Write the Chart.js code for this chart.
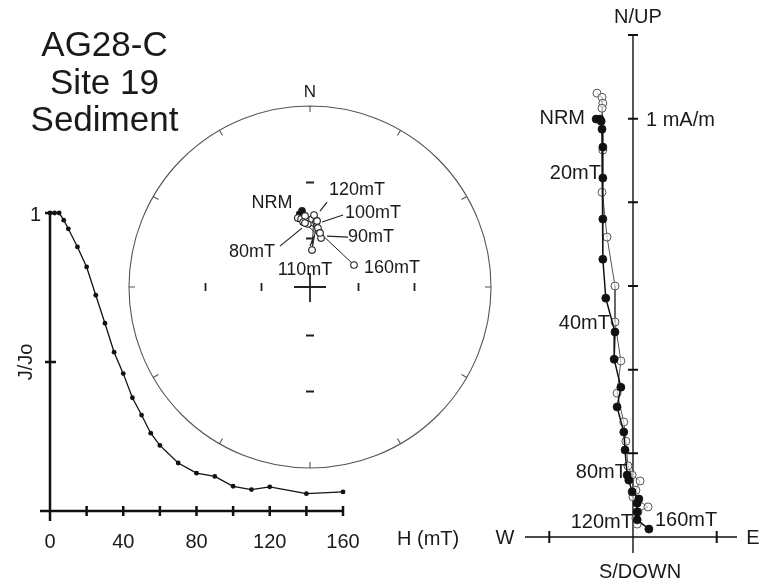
<!DOCTYPE html>
<html>
<head>
<meta charset="utf-8">
<script src="https://cdn.jsdelivr.net/npm/chart.js@4.4.1/dist/chart.umd.min.js"></script>
<style>
html, body { margin: 0; padding: 0; background: #fff; }
#wrap { position: relative; width: 767px; height: 583px; overflow: hidden; }
canvas { position: absolute; left: 0; top: 0; }
#title { position: absolute; left: 24px; top: 25px; width: 161px; text-align: center;
  font: 35px "Liberation Sans", Arial, sans-serif; line-height: 37.5px; color: #1a1a1a; }
</style>
</head>
<body>
<div id="wrap">
  <canvas id="demag" width="767" height="583"></canvas>
  <canvas id="stereo" width="767" height="583"></canvas>
  <canvas id="zij" width="767" height="583"></canvas>
  <div id="title">AG28-C<br>Site 19<br>Sediment</div>
</div>
<script>
// --- demagnetisation curve (J/Jo vs field)
const demagField = [0, 2.5, 5, 7.5, 10, 15, 20, 25, 30, 35, 40, 45, 50, 55, 60, 70, 80, 90, 100, 110, 120, 140, 160];
const demagJ = [1.0, 1.0, 1.0, 0.976, 0.947, 0.886, 0.819, 0.724, 0.63, 0.533, 0.461, 0.38, 0.322, 0.261, 0.22, 0.161, 0.127, 0.116, 0.083, 0.072, 0.081, 0.058, 0.064];
const demagXTicks = [0, 40, 80, 120, 160];
const demagXMarks = [0, 20, 40, 60, 80, 100, 120, 140, 160];
const demagYMarks = [0.5, 1];
const demagYLabels = [1];

// --- equal-angle stereonet
const stereoSteps = ['NRM', '5', '10', '15', '20', '30', '40', '50', '60', '70', '80', '90', '100', '110', '120', '140', '160'];
const stereoDec = [354, 352, 350, 352.5, 356, 354, 358, 1.7, 5.3, 7.7, 355.5, 12.7, 6.1, 3.1, 3.2, 10.5, 63.4];
const stereoInc = [44.2, 45.7, -47.7, -48.5, -47, -50.3, -51.6, -48.8, -50.3, -53.6, -51, -59, -49.7, -66.9, -46.6, -56.2, -59.6];
const stereoRingTicks = [0, 30, 60, 90, 120, 150, 180, 210, 240, 270, 300, 330];
const stereoIncTicks = [60, 30];

// --- Zijderveld diagram (mA/m)
const zijHorE = [-0.088, -0.079, -0.076, -0.074, -0.072, -0.072, -0.072, -0.072, -0.065, -0.043, -0.045, -0.029, -0.038, -0.022, -0.019, -0.014, -0.010, -0.002, 0.014, 0.010, 0.010, 0.010, 0.038];
const zijHorN = [0.999, 0.999, 0.994, 0.975, 0.932, 0.858, 0.760, 0.664, 0.571, 0.490, 0.425, 0.358, 0.311, 0.251, 0.208, 0.148, 0.136, 0.108, 0.091, 0.081, 0.060, 0.041, 0.019];
const zijVerE = [-0.086, -0.074, -0.072, -0.074, -0.072, -0.074, -0.062, -0.043, -0.043, -0.029, -0.038, -0.022, -0.017, -0.012, -0.002, 0.017, 0.007, 0.000, 0.036, 0.012, 0.007, 0.010];
const zijVerUp = [1.061, 1.051, 1.037, 1.025, 0.925, 0.824, 0.717, 0.600, 0.514, 0.421, 0.344, 0.275, 0.229, 0.170, 0.148, 0.134, 0.112, 0.096, 0.072, 0.060, 0.045, 0.031];
const zijVTicks = [0.2, 0.4, 0.6, 0.8, 1.0, 1.2];
const zijHTicks = [-0.2, 0.2];

const FONT = '"Liberation Sans", Arial, sans-serif';
const INK = '#1a1a1a';

function hidden(min, max) {
  return { type: 'linear', min: min, max: max, display: false };
}

// ---------- chart 1
const demagAxes = {
  id: 'demagAxes',
  beforeDatasetsDraw(chart) {
    const { ctx, scales: { x, y } } = chart;
    const x0 = x.getPixelForValue(0), y0 = y.getPixelForValue(0);
    ctx.save();
    ctx.strokeStyle = '#111';
    ctx.lineWidth = 2.5;
    ctx.beginPath();
    ctx.moveTo(x0 - 10, y0); ctx.lineTo(x.getPixelForValue(160) + 1, y0);
    ctx.moveTo(x0, y0 + 10); ctx.lineTo(x0, y.getPixelForValue(1));
    demagXMarks.forEach(v => {
      const px = x.getPixelForValue(v);
      ctx.moveTo(px, y0 - 5); ctx.lineTo(px, y0 + 5);
    });
    demagYMarks.forEach(v => {
      const py = y.getPixelForValue(v);
      ctx.moveTo(x0 - 5, py); ctx.lineTo(x0 + 6, py);
    });
    ctx.stroke();

    ctx.fillStyle = INK;
    ctx.font = '20px ' + FONT;
    ctx.textAlign = 'center';
    ctx.textBaseline = 'middle';
    demagXTicks.forEach(v => ctx.fillText(String(v), x.getPixelForValue(v), y0 + 31));
    ctx.textAlign = 'left';
    ctx.fillText('H (mT)', x.getPixelForValue(160) + 54, y0 + 28);
    ctx.textAlign = 'right';
    demagYLabels.forEach(v => ctx.fillText(String(v), x0 - 9, y.getPixelForValue(v) + 2));
    ctx.translate(x0 - 24, y.getPixelForValue(0.5));
    ctx.rotate(-Math.PI / 2);
    ctx.textAlign = 'center';
    ctx.fillText('J/Jo', 0, 0);
    ctx.restore();
  }
};

new Chart(document.getElementById('demag'), {
  type: 'scatter',
  data: {
    datasets: [{
      data: demagField.map((h, i) => ({ x: h, y: demagJ[i] })),
      showLine: true,
      borderColor: '#111',
      borderWidth: 1.3,
      backgroundColor: '#111',
      pointRadius: 2.4,
      pointBorderWidth: 0,
      clip: false
    }]
  },
  options: {
    responsive: false,
    animation: false,
    devicePixelRatio: 1,
    layout: { padding: { left: 50, right: 424, top: 213, bottom: 72 } },
    plugins: { legend: { display: false }, tooltip: { enabled: false } },
    scales: { x: hidden(0, 160), y: hidden(0, 1) }
  },
  plugins: [demagAxes]
});

// ---------- chart 2
function project(dec, inc) {
  const r = Math.tan((90 - Math.abs(inc)) / 2 * Math.PI / 180);
  const d = dec * Math.PI / 180;
  return { x: r * Math.sin(d), y: r * Math.cos(d) };
}

const stereoPts = stereoDec.map((d, i) => project(d, stereoInc[i]));

const stereoFrame = {
  id: 'stereoFrame',
  beforeDatasetsDraw(chart) {
    const { ctx, scales: { x, y } } = chart;
    const cx = x.getPixelForValue(0), cy = y.getPixelForValue(0);
    const R = x.getPixelForValue(1) - cx;
    ctx.save();
    ctx.strokeStyle = '#555';
    ctx.lineWidth = 1.1;
    ctx.beginPath();
    ctx.arc(cx, cy, R, 0, Math.PI * 2);
    stereoRingTicks.forEach(a => {
      const t = a * Math.PI / 180;
      ctx.moveTo(cx + R * Math.sin(t), cy - R * Math.cos(t));
      ctx.lineTo(cx + (R - 6) * Math.sin(t), cy - (R - 6) * Math.cos(t));
    });
    ctx.stroke();

    ctx.strokeStyle = '#222';
    ctx.lineWidth = 1.8;
    ctx.beginPath();
    stereoIncTicks.forEach(inc => {
      const r = Math.tan((90 - inc) / 2 * Math.PI / 180) * R;
      [-1, 1].forEach(s => {
        ctx.moveTo(cx + s * r, cy - 4); ctx.lineTo(cx + s * r, cy + 4);
        ctx.moveTo(cx - 4, cy + s * r); ctx.lineTo(cx + 4, cy + s * r);
      });
    });
    ctx.moveTo(cx - 16, cy); ctx.lineTo(cx + 16, cy);
    ctx.moveTo(cx, cy - 14); ctx.lineTo(cx, cy + 15);
    ctx.stroke();

    ctx.fillStyle = INK;
    ctx.font = '17px ' + FONT;
    ctx.textAlign = 'center';
    ctx.textBaseline = 'middle';
    ctx.fillText('N', cx, cy - R - 14);
    ctx.restore();
  },
  afterDatasetsDraw(chart) {
    const { ctx, scales: { x, y } } = chart;
    // [step, text dx, text dy, leader from dx, dy, to dx, dy]
    const notes = [
      ['NRM', -30, -8],
      ['120', 43, -25, 6, -4, 13, -13],
      ['100', 56, -8, 5, 1, 26, -6],
      ['90', 50, -1, 6, -2, 27, -1],
      ['160', 38, 3],
      ['110', -7, 20, -2, -4, 2, -14],
      ['80', -53, 29, -3, 5, -25, 23]
    ];
    ctx.save();
    ctx.strokeStyle = '#222';
    ctx.lineWidth = 1.2;
    ctx.fillStyle = INK;
    ctx.font = '18px ' + FONT;
    ctx.textAlign = 'center';
    ctx.textBaseline = 'middle';
    notes.forEach(n => {
      const i = stereoSteps.indexOf(n[0]);
      const px = x.getPixelForValue(stereoPts[i].x), py = y.getPixelForValue(stereoPts[i].y);
      const label = n[0] === 'NRM' ? 'NRM' : n[0] + 'mT';
      ctx.fillText(label, px + n[1], py + n[2]);
      if (n.length > 3) {
        ctx.beginPath();
        ctx.moveTo(px + n[3], py + n[4]);
        ctx.lineTo(px + n[5], py + n[6]);
        ctx.stroke();
      }
    });
    ctx.restore();
  }
};

new Chart(document.getElementById('stereo'), {
  type: 'scatter',
  data: {
    datasets: [{
      data: stereoPts,
      showLine: true,
      borderColor: '#222',
      borderWidth: 1,
      pointRadius: 3.3,
      pointBorderWidth: 1.1,
      pointBorderColor: '#222',
      pointBackgroundColor: stereoInc.map(v => v > 0 ? '#111' : '#fff'),
      clip: false
    }]
  },
  options: {
    responsive: false,
    animation: false,
    devicePixelRatio: 1,
    layout: { padding: { left: 129, right: 276, top: 106, bottom: 115 } },
    plugins: { legend: { display: false }, tooltip: { enabled: false } },
    scales: { x: hidden(-1, 1), y: hidden(-1, 1) }
  },
  plugins: [stereoFrame]
});

// ---------- chart 3
const zijFrame = {
  id: 'zijFrame',
  beforeDatasetsDraw(chart) {
    const { ctx, scales: { x, y } } = chart;
    const ox = x.getPixelForValue(0), oy = y.getPixelForValue(0);
    const a = chart.chartArea;
    ctx.save();
    ctx.strokeStyle = '#111';
    ctx.lineWidth = 1.4;
    ctx.beginPath();
    ctx.moveTo(a.left, oy); ctx.lineTo(a.right, oy);
    ctx.moveTo(ox, a.top); ctx.lineTo(ox, a.bottom);
    ctx.stroke();
    ctx.lineWidth = 2;
    ctx.beginPath();
    zijVTicks.forEach(v => {
      const py = y.getPixelForValue(v);
      ctx.moveTo(ox - 5, py); ctx.lineTo(ox + 5, py);
    });
    zijHTicks.forEach(v => {
      const px = x.getPixelForValue(v);
      ctx.moveTo(px, oy - 6); ctx.lineTo(px, oy + 6);
    });
    ctx.stroke();

    ctx.fillStyle = INK;
    ctx.font = '20px ' + FONT;
    ctx.textBaseline = 'middle';
    ctx.textAlign = 'center';
    ctx.fillText('N/UP', ox + 5, a.top - 18);
    ctx.fillText('S/DOWN', ox + 7, a.bottom + 19);
    ctx.fillText('W', a.left - 20, oy + 1);
    ctx.fillText('E', a.right + 16, oy + 1);
    ctx.textAlign = 'left';
    ctx.fillText('1 mA/m', ox + 13, y.getPixelForValue(1) + 2);
    ctx.restore();
  },
  afterDatasetsDraw(chart) {
    const { ctx, scales: { x, y } } = chart;
    const ox = x.getPixelForValue(0), oy = y.getPixelForValue(0);
    // [text, right edge dx from origin, dy from origin]
    const notes = [
      ['NRM', -48, -419],
      ['20mT', -32, -364],
      ['40mT', -23, -214],
      ['80mT', -6, -65],
      ['120mT', 0, -15]
    ];
    ctx.save();
    ctx.fillStyle = INK;
    ctx.font = '20px ' + FONT;
    ctx.textBaseline = 'middle';
    ctx.textAlign = 'right';
    notes.forEach(n => ctx.fillText(n[0], ox + n[1], oy + n[2]));
    ctx.textAlign = 'left';
    ctx.fillText('160mT', ox + 22, oy - 17);
    ctx.restore();
  }
};

new Chart(document.getElementById('zij'), {
  type: 'scatter',
  data: {
    datasets: [{
      data: zijHorE.map((e, i) => ({ x: e, y: zijHorN[i] })),
      showLine: true,
      borderColor: '#111',
      borderWidth: 1.5,
      pointRadius: 4,
      pointBorderWidth: 0.8,
      pointBorderColor: '#111',
      pointBackgroundColor: '#111',
      clip: false
    }, {
      data: zijVerE.map((e, i) => ({ x: e, y: zijVerUp[i] })),
      showLine: true,
      borderColor: '#555',
      borderWidth: 1,
      pointRadius: 4,
      pointBorderWidth: 1,
      pointBorderColor: '#555',
      pointBackgroundColor: 'rgba(255,255,255,0.6)',
      clip: false
    }]
  },
  options: {
    responsive: false,
    animation: false,
    devicePixelRatio: 1,
    layout: { padding: { left: 525, right: 30, top: 35, bottom: 30 } },
    plugins: { legend: { display: false }, tooltip: { enabled: false } },
    scales: { x: hidden(-0.258, 0.2485), y: hidden(-0.0382, 1.2) }
  },
  plugins: [zijFrame]
});
</script>
</body>
</html>
